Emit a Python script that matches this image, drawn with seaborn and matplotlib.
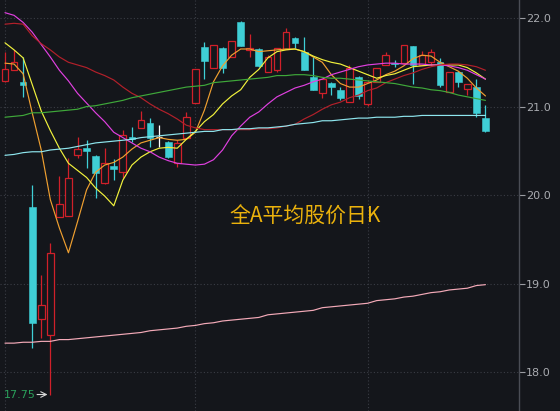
import numpy as np
import pandas as pd
import seaborn as sns
import matplotlib.pyplot as plt
from matplotlib.patches import Rectangle

# daily candles (open / high / low / close)
opens = [21.29, 21.41, 21.28, 19.87, 18.60, 18.42, 19.75, 19.76, 20.45, 20.53,
         20.44, 20.14, 20.33, 20.26, 20.66, 20.76, 20.81, 20.66, 20.60, 20.36,
         20.65, 21.04, 21.67, 21.44, 21.66, 21.56, 21.96, 21.64, 21.65, 21.39,
         21.41, 21.65, 21.77, 21.62, 21.33, 21.15, 21.27, 21.19, 21.05, 21.33,
         21.03, 21.28, 21.47, 21.49, 21.49, 21.68, 21.47, 21.50, 21.50, 21.17,
         21.39, 21.20, 21.22, 20.87]
highs = [21.62, 21.64, 21.56, 20.12, 19.10, 19.46, 20.22, 20.42, 20.66, 20.62,
         20.45, 20.53, 20.41, 20.74, 20.77, 20.95, 20.87, 20.79, 20.61, 20.62,
         20.94, 21.42, 21.73, 21.70, 21.67, 21.74, 21.97, 21.82, 21.66, 21.58,
         21.66, 21.89, 21.79, 21.79, 21.56, 21.31, 21.28, 21.22, 21.47, 21.34,
         21.30, 21.44, 21.62, 21.53, 21.70, 21.68, 21.63, 21.65, 21.55, 21.39,
         21.40, 21.26, 21.31, 21.02]
lows = [21.28, 21.41, 21.11, 18.28, 18.39, 17.75, 19.75, 19.76, 20.42, 20.31,
        19.97, 20.13, 20.17, 20.19, 20.60, 20.76, 20.54, 20.54, 20.42, 20.32,
        20.65, 21.04, 21.31, 21.44, 21.38, 21.56, 21.68, 21.56, 21.45, 21.39,
        21.39, 21.65, 21.66, 21.41, 21.19, 21.10, 21.13, 21.07, 21.05, 21.09,
        21.01, 21.28, 21.47, 21.45, 21.49, 21.26, 21.47, 21.47, 21.22, 21.17,
        21.22, 21.13, 20.88, 20.71]
closes = [21.42, 21.50, 21.24, 18.56, 18.76, 19.35, 19.90, 20.19, 20.52, 20.50,
          20.25, 20.36, 20.30, 20.68, 20.63, 20.85, 20.65, 20.66, 20.43, 20.59,
          20.88, 21.42, 21.51, 21.70, 21.44, 21.74, 21.68, 21.66, 21.46, 21.56,
          21.66, 21.84, 21.72, 21.41, 21.19, 21.31, 21.22, 21.10, 21.44, 21.12,
          21.28, 21.44, 21.58, 21.48, 21.70, 21.47, 21.58, 21.62, 21.24, 21.39,
          21.28, 21.26, 20.93, 20.72]

# moving average lines as drawn on the chart
ma5 = [21.49, 21.48, 21.37, 20.93, 20.51, 19.95, 19.63, 19.35, 19.70, 20.06,
       20.26, 20.34, 20.37, 20.43, 20.52, 20.59, 20.62, 20.65, 20.63, 20.62,
       20.63, 20.71, 20.96, 21.28, 21.46, 21.58, 21.65, 21.65, 21.62, 21.63,
       21.64, 21.65, 21.65, 21.62, 21.56, 21.50, 21.36, 21.26, 21.22, 21.22,
       21.26, 21.30, 21.36, 21.40, 21.46, 21.54, 21.58, 21.57, 21.50, 21.45,
       21.40, 21.32, 21.21, 21.12]
ma10 = [21.72, 21.64, 21.55, 21.25, 20.95, 20.73, 20.53, 20.36, 20.28, 20.20,
        20.08, 19.99, 19.88, 20.17, 20.34, 20.43, 20.49, 20.53, 20.54, 20.53,
        20.63, 20.72, 20.83, 20.91, 21.03, 21.12, 21.19, 21.33, 21.42, 21.55,
        21.62, 21.64, 21.65, 21.62, 21.57, 21.53, 21.50, 21.48, 21.44, 21.40,
        21.36, 21.32, 21.35, 21.37, 21.41, 21.45, 21.46, 21.47, 21.47, 21.47,
        21.47, 21.44, 21.38, 21.31]
ma20 = [22.06, 22.03, 21.95, 21.84, 21.70, 21.56, 21.41, 21.29, 21.15, 21.04,
        20.93, 20.83, 20.71, 20.65, 20.59, 20.53, 20.49, 20.43, 20.39, 20.36,
        20.35, 20.34, 20.35, 20.40, 20.51, 20.67, 20.78, 20.88, 20.94, 21.03,
        21.11, 21.16, 21.21, 21.24, 21.28, 21.31, 21.36, 21.39, 21.42, 21.45,
        21.47, 21.48, 21.49, 21.49, 21.48, 21.48, 21.48, 21.47, 21.47, 21.46,
        21.44, 21.41, 21.36, 21.31]
ma30 = [21.93, 21.94, 21.93, 21.80, 21.71, 21.64, 21.56, 21.50, 21.47, 21.44,
        21.39, 21.35, 21.30, 21.22, 21.15, 21.10, 21.03, 20.97, 20.92, 20.86,
        20.79, 20.76, 20.74, 20.74, 20.74, 20.74, 20.74, 20.74, 20.75, 20.75,
        20.76, 20.78, 20.80, 20.86, 20.91, 20.97, 21.02, 21.05, 21.10, 21.13,
        21.18, 21.21, 21.27, 21.31, 21.35, 21.38, 21.42, 21.45, 21.47, 21.48,
        21.48, 21.47, 21.45, 21.41]
ma60 = [20.88, 20.89, 20.90, 20.93, 20.93, 20.94, 20.95, 20.96, 20.97, 21.00,
        21.01, 21.03, 21.05, 21.07, 21.10, 21.12, 21.14, 21.16, 21.18, 21.20,
        21.22, 21.23, 21.24, 21.27, 21.28, 21.29, 21.30, 21.31, 21.32, 21.33,
        21.35, 21.35, 21.36, 21.36, 21.35, 21.33, 21.32, 21.32, 21.31, 21.30,
        21.29, 21.28, 21.27, 21.26, 21.24, 21.22, 21.21, 21.19, 21.18, 21.16,
        21.13, 21.11, 21.09, 21.07]
ma120 = [20.45, 20.46, 20.48, 20.49, 20.49, 20.51, 20.52, 20.53, 20.55, 20.57,
         20.59, 20.60, 20.61, 20.62, 20.63, 20.65, 20.66, 20.67, 20.68, 20.69,
         20.70, 20.71, 20.72, 20.72, 20.74, 20.74, 20.75, 20.75, 20.76, 20.76,
         20.77, 20.78, 20.80, 20.81, 20.82, 20.84, 20.84, 20.85, 20.86, 20.87,
         20.87, 20.88, 20.88, 20.88, 20.89, 20.89, 20.90, 20.90, 20.90, 20.90,
         20.90, 20.90, 20.90, 20.90]
ma250 = [18.33, 18.33, 18.34, 18.34, 18.35, 18.35, 18.37, 18.37, 18.38, 18.39,
         18.40, 18.41, 18.42, 18.43, 18.44, 18.45, 18.47, 18.48, 18.49, 18.50,
         18.52, 18.53, 18.55, 18.56, 18.58, 18.59, 18.60, 18.61, 18.62, 18.65,
         18.66, 18.67, 18.68, 18.69, 18.70, 18.73, 18.74, 18.75, 18.76, 18.77,
         18.78, 18.81, 18.82, 18.83, 18.85, 18.86, 18.88, 18.90, 18.91, 18.93,
         18.94, 18.95, 18.98, 18.99]

y_ticks = [18.0, 19.0, 20.0, 21.0, 22.0]
title = "全A平均股价日K"

BG = "#14161b"
UP = "#d0202a"
DOWN = "#3fcfd6"

sns.set_style("dark", {"axes.facecolor": BG, "figure.facecolor": BG})
plt.rcParams["font.family"] = ["Noto Sans CJK SC", "DejaVu Sans"]

fig = plt.figure(figsize=(5.6, 4.11), dpi=100)
ax = fig.add_axes([0, 0, 519 / 560, 1])
ax.set_facecolor(BG)

idx = np.arange(len(opens))

# grid
for v in y_ticks:
    ax.axhline(v, color="#3a3d45", lw=0.8, ls=(0, (1, 2)), zorder=0)
for gx in [0, 21, 40]:
    ax.axvline(gx, color="#3a3d45", lw=0.8, ls=(0, (1, 2)), zorder=0)

# candles
w = 0.74
for i in idx:
    o, h, l, c = opens[i], highs[i], lows[i], closes[i]
    if c > o:
        ax.vlines(i, c, h, color=UP, lw=0.9, zorder=2)
        ax.vlines(i, l, o, color=UP, lw=0.9, zorder=2)
        ax.add_patch(Rectangle((i - w / 2, o), w, c - o, facecolor=BG,
                               edgecolor=UP, lw=0.9, zorder=2))
    elif c < o:
        ax.vlines(i, l, h, color=DOWN, lw=0.9, zorder=2)
        ax.add_patch(Rectangle((i - w / 2, c), w, o - c, facecolor=DOWN,
                               edgecolor=DOWN, lw=0.4, zorder=2))
    else:
        ax.vlines(i, l, h, color="white", lw=0.9, zorder=2)
        ax.hlines(c, i - w / 2, i + w / 2, color="white", lw=0.9, zorder=2)

# moving averages
ma = pd.DataFrame({"idx": idx, "MA5": ma5, "MA10": ma10, "MA20": ma20,
                   "MA30": ma30, "MA60": ma60, "MA120": ma120, "MA250": ma250})
long = ma.melt(id_vars="idx", var_name="ma", value_name="price")
palette = {"MA5": "#f0a030", "MA10": "#f2f23c", "MA20": "#e040e0",
           "MA30": "#b3202a", "MA60": "#3fa83a", "MA120": "#8ee6ee",
           "MA250": "#f4aab8"}
sns.lineplot(data=long, x="idx", y="price", hue="ma", palette=palette,
             lw=0.85, legend=False, ax=ax, zorder=3)

# lowest price marker
lo_i = int(np.argmin(lows))
ax.annotate("", xy=(lo_i, lows[lo_i]), xytext=(-16, 0),
            textcoords="offset pixels",
            arrowprops=dict(arrowstyle="->", color="#d8d8d8", lw=0.8))
ax.annotate(f"{lows[lo_i]:.2f}", xy=(lo_i, lows[lo_i]), xytext=(-15, 0),
            textcoords="offset pixels", ha="right", va="center",
            color="#2aa05a", fontsize=8, family="DejaVu Sans")

ax.text(0.443, 0.472, title, transform=ax.transAxes, ha="left", va="center",
        color="#ebb20c", fontsize=15)

ax.set_xlim(-0.55, 56.7)
ax.set_ylim(17.564, 22.203)
ax.set_xticks([])
ax.yaxis.tick_right()
ax.set_yticks(y_ticks)
ax.set_yticklabels([f"{v:.1f}" for v in y_ticks], family="DejaVu Sans")
ax.tick_params(axis="y", colors="#9a9ca2", labelsize=8, length=4, width=0.8,
               pad=1, labelcolor="#a9abb0")
ax.set_xlabel("")
ax.set_ylabel("")
for s in ["top", "bottom", "left"]:
    ax.spines[s].set_visible(False)
ax.spines["right"].set_visible(True)
ax.spines["right"].set_color("#4a4d55")
ax.spines["right"].set_linewidth(1)

fig.savefig("out.png", dpi=100, facecolor=BG)
